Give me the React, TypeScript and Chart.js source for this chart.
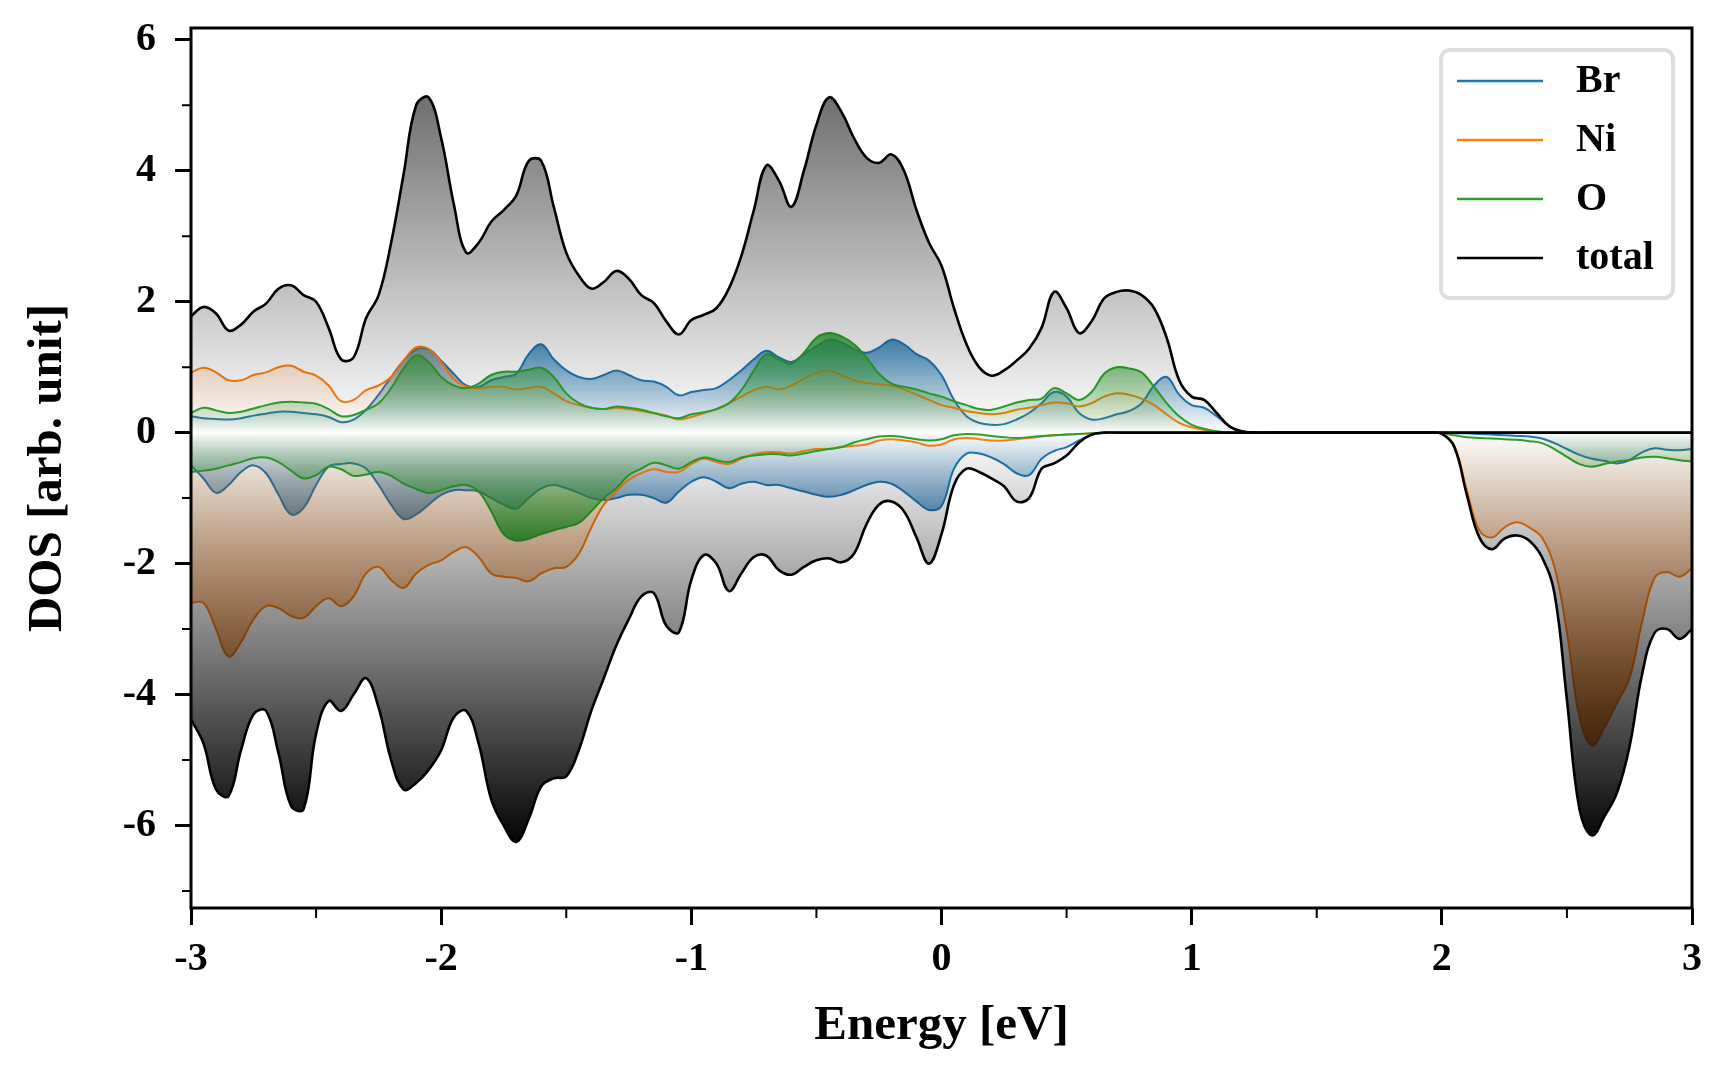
import React, { useEffect, useRef } from 'react';
import Chart from 'chart.js/auto';

// Energy grid (eV)
const ENERGY = [
  -3, -2.95, -2.9, -2.85, -2.8, -2.75, -2.7, -2.65, -2.6, -2.55, -2.5, -2.45, -2.4, -2.35, -2.3, -2.25, -2.2, -2.15, -2.1, -2.05,
  -2, -1.95, -1.9, -1.85, -1.8, -1.75, -1.7, -1.65, -1.6, -1.55, -1.5, -1.45, -1.4, -1.35, -1.3, -1.25, -1.2, -1.15, -1.1, -1.05,
  -1, -0.95, -0.9, -0.85, -0.8, -0.75, -0.7, -0.65, -0.6, -0.55, -0.5, -0.45, -0.4, -0.35, -0.3, -0.25, -0.2, -0.15, -0.1, -0.05,
  0, 0.05, 0.1, 0.15, 0.2, 0.25, 0.3, 0.35, 0.4, 0.45, 0.5, 0.55, 0.6, 0.65, 0.7, 0.75, 0.8, 0.85, 0.9, 0.95,
  1, 1.05, 1.1, 1.15, 1.2, 1.25, 1.3, 1.35, 1.4, 1.45, 1.5, 1.55, 1.6, 1.65, 1.7, 1.75, 1.8, 1.85, 1.9, 1.95,
  2, 2.05, 2.1, 2.15, 2.2, 2.25, 2.3, 2.35, 2.4, 2.45, 2.5, 2.55, 2.6, 2.65, 2.7, 2.75, 2.8, 2.85, 2.9, 2.95,
  3,
];

const TOTAL_UP = [
  1.78, 1.92, 1.82, 1.56, 1.65, 1.85, 1.97, 2.2, 2.25, 2.1, 2.0, 1.6, 1.12, 1.15, 1.75, 2.1, 2.9, 3.95, 5.0, 5.12,
  4.5, 3.5, 2.75, 2.9, 3.22, 3.4, 3.62, 4.15, 4.15, 3.45, 2.75, 2.4, 2.2, 2.3, 2.47, 2.35, 2.1, 1.98, 1.7, 1.5,
  1.72, 1.8, 1.9, 2.2, 2.7, 3.4, 4.08, 3.85, 3.45, 4.0, 4.7, 5.12, 4.9, 4.5, 4.2, 4.12, 4.25, 4.0, 3.4, 2.9,
  2.55, 1.9, 1.35, 1.0, 0.87, 0.95, 1.1, 1.28, 1.6, 2.15, 1.9, 1.52, 1.7, 2.05, 2.15, 2.17, 2.1, 1.9, 1.45, 0.8,
  0.55, 0.5, 0.3, 0.1, 0.02, 0, 0, 0, 0, 0, 0, 0, 0, 0, 0, 0, 0, 0, 0, 0,
  0, 0, 0, 0, 0, 0, 0, 0, 0, 0, 0, 0, 0, 0, 0, 0, 0, 0, 0, 0,
  0,
];

const TOTAL_DN = [
  -4.38, -4.75, -5.45, -5.55, -4.85, -4.3, -4.25, -4.9, -5.7, -5.75, -4.6, -4.1, -4.25, -4.0, -3.75, -4.2, -5.0, -5.45, -5.35, -5.15,
  -4.85, -4.35, -4.25, -4.75, -5.6, -6.0, -6.25, -5.9, -5.4, -5.28, -5.25, -4.85, -4.25, -3.75, -3.25, -2.85, -2.5, -2.45, -2.95, -3.05,
  -2.25, -1.87, -2.0, -2.42, -2.15, -1.9, -1.88, -2.1, -2.17, -2.05, -1.95, -1.92, -1.98, -1.85, -1.4, -1.1, -1.05, -1.2, -1.6, -2.0,
  -1.55, -0.8, -0.55, -0.6, -0.7, -0.82, -1.05, -1.0, -0.55, -0.47, -0.35, -0.15, -0.03, 0, 0, 0, 0, 0, 0, 0,
  0, 0, 0, 0, 0, 0, 0, 0, 0, 0, 0, 0, 0, 0, 0, 0, 0, 0, 0, 0,
  -0.02, -0.22, -0.95, -1.6, -1.78, -1.62, -1.57, -1.65, -1.9, -2.45, -4.08, -5.75, -6.15, -5.86, -5.5, -4.8, -3.7, -3.06, -3.0, -3.15,
  -3.0,
];

const BR_UP = [
  0.25, 0.22, 0.21, 0.2, 0.22, 0.26, 0.29, 0.32, 0.32, 0.3, 0.28, 0.24, 0.16, 0.2, 0.35, 0.58, 0.85, 1.1, 1.27, 1.27,
  1.1, 0.9, 0.72, 0.7, 0.8, 0.85, 0.9, 1.2, 1.35, 1.12, 0.95, 0.85, 0.82, 0.88, 0.95, 0.88, 0.8, 0.78, 0.7, 0.57,
  0.62, 0.65, 0.68, 0.8, 0.95, 1.12, 1.25, 1.15, 1.08, 1.2, 1.32, 1.42, 1.38, 1.28, 1.22, 1.3, 1.42, 1.35, 1.2, 1.1,
  0.88, 0.5, 0.25, 0.15, 0.12, 0.13, 0.2, 0.3, 0.45, 0.62, 0.55, 0.3, 0.2, 0.22, 0.28, 0.33, 0.45, 0.72, 0.85, 0.58,
  0.42, 0.38, 0.25, 0.1, 0.02, 0, 0, 0, 0, 0, 0, 0, 0, 0, 0, 0, 0, 0, 0, 0,
  0, 0, 0, 0, 0, 0, 0, 0, 0, 0, 0, 0, 0, 0, 0, 0, 0, 0, 0, 0,
  0,
];

const BR_DN = [
  -0.5, -0.7, -0.92, -0.8, -0.6, -0.5, -0.62, -0.95, -1.25, -1.15, -0.8, -0.52, -0.48, -0.47, -0.55, -0.8, -1.1, -1.32, -1.25, -1.1,
  -0.95, -0.88, -0.88, -0.9, -1.0, -1.1, -1.16, -1.0, -0.85, -0.8, -0.85, -0.92, -1.0, -1.03, -1.0, -0.95, -0.95, -1.0, -1.07, -0.9,
  -0.75, -0.68, -0.75, -0.85, -0.78, -0.75, -0.8, -0.8, -0.85, -0.9, -0.95, -0.98, -0.95, -0.88, -0.8, -0.75, -0.78, -0.9, -1.05, -1.18,
  -1.12, -0.55, -0.32, -0.32, -0.38, -0.48, -0.62, -0.65, -0.4, -0.28, -0.22, -0.12, -0.03, 0, 0, 0, 0, 0, 0, 0,
  0, 0, 0, 0, 0, 0, 0, 0, 0, 0, 0, 0, 0, 0, 0, 0, 0, 0, 0, 0,
  0, -0.01, -0.01, -0.02, -0.03, -0.04, -0.05, -0.06, -0.09, -0.16, -0.25, -0.34, -0.4, -0.43, -0.47, -0.42, -0.3, -0.24, -0.26, -0.27,
  -0.25,
];

const NI_UP = [
  0.92, 0.99, 0.92, 0.8, 0.8, 0.88, 0.92, 1.0, 1.02, 0.93, 0.87, 0.72, 0.48, 0.5, 0.65, 0.72, 0.85, 1.1, 1.3, 1.28,
  1.08, 0.82, 0.7, 0.68, 0.7, 0.7, 0.66, 0.68, 0.7, 0.6, 0.48, 0.42, 0.38, 0.36, 0.38, 0.36, 0.33, 0.3, 0.26, 0.2,
  0.24, 0.3, 0.36, 0.45, 0.55, 0.65, 0.7, 0.66, 0.72, 0.82, 0.92, 0.95, 0.88, 0.8, 0.76, 0.74, 0.72, 0.66, 0.58, 0.5,
  0.42, 0.38, 0.33, 0.3, 0.28, 0.3, 0.35, 0.38, 0.42, 0.46, 0.45, 0.4, 0.45, 0.55, 0.6, 0.58, 0.52, 0.42, 0.28, 0.15,
  0.08, 0.04, 0.01, 0, 0, 0, 0, 0, 0, 0, 0, 0, 0, 0, 0, 0, 0, 0, 0, 0,
  0, 0, 0, 0, 0, 0, 0, 0, 0, 0, 0, 0, 0, 0, 0, 0, 0, 0, 0, 0,
  0,
];

const NI_DN = [
  -2.6, -2.6, -3.0, -3.42, -3.2, -2.85, -2.65, -2.68, -2.8, -2.83, -2.65, -2.53, -2.65, -2.5, -2.15, -2.05, -2.25, -2.37, -2.15, -2.02,
  -1.95, -1.82, -1.75, -1.9, -2.15, -2.2, -2.22, -2.27, -2.15, -2.07, -2.05, -1.85, -1.45, -1.1, -0.9, -0.72, -0.62, -0.56, -0.6, -0.6,
  -0.48, -0.4, -0.45, -0.48, -0.4, -0.33, -0.3, -0.3, -0.32, -0.28, -0.25, -0.25, -0.22, -0.2, -0.18, -0.12, -0.1, -0.12, -0.15, -0.2,
  -0.18, -0.1, -0.08, -0.1, -0.12, -0.12, -0.1, -0.08, -0.06, -0.04, -0.03, -0.02, -0.01, 0, 0, 0, 0, 0, 0, 0,
  0, 0, 0, 0, 0, 0, 0, 0, 0, 0, 0, 0, 0, 0, 0, 0, 0, 0, 0, 0,
  -0.01, -0.2, -0.88, -1.49, -1.6, -1.45, -1.37, -1.45, -1.6, -2.05, -3.05, -4.34, -4.78, -4.5, -4.13, -3.75, -2.9, -2.22, -2.13, -2.2,
  -2.07,
];

const O_UP = [
  0.3, 0.38, 0.34, 0.3, 0.32, 0.37, 0.42, 0.46, 0.47, 0.46, 0.44, 0.36, 0.25, 0.27, 0.35, 0.45, 0.68, 0.98, 1.18, 1.08,
  0.85, 0.72, 0.68, 0.75, 0.88, 0.93, 0.93, 0.96, 0.99, 0.85, 0.6, 0.45, 0.38, 0.36, 0.4, 0.38, 0.35, 0.3, 0.25, 0.22,
  0.28, 0.31, 0.36, 0.45, 0.65, 0.95, 1.2, 1.12, 1.05, 1.22, 1.45, 1.52, 1.47, 1.35, 1.15, 0.9, 0.75, 0.7, 0.66, 0.6,
  0.55, 0.48, 0.42, 0.36, 0.35, 0.4, 0.46, 0.5, 0.52, 0.68, 0.6, 0.5, 0.62, 0.9, 1.0, 0.98, 0.92, 0.7, 0.45, 0.25,
  0.12, 0.06, 0.02, 0, 0, 0, 0, 0, 0, 0, 0, 0, 0, 0, 0, 0, 0, 0, 0, 0,
  0, 0, 0, 0, 0, 0, 0, 0, 0, 0, 0, 0, 0, 0, 0, 0, 0, 0, 0, 0,
  0,
];

const O_DN = [
  -0.6, -0.58, -0.55, -0.5, -0.45, -0.39, -0.38, -0.45, -0.58, -0.7, -0.65, -0.52, -0.56, -0.66, -0.64, -0.6, -0.66, -0.78, -0.86, -0.92,
  -0.88, -0.82, -0.8, -0.9, -1.2, -1.55, -1.65, -1.62, -1.55, -1.49, -1.44, -1.38, -1.2, -1.0, -0.85, -0.65, -0.55, -0.46, -0.5, -0.55,
  -0.45, -0.38, -0.42, -0.45, -0.38, -0.35, -0.33, -0.33, -0.35, -0.32, -0.28, -0.25, -0.22, -0.15, -0.1, -0.06, -0.05, -0.07, -0.1, -0.12,
  -0.1, -0.04, -0.02, -0.03, -0.05, -0.07, -0.08, -0.07, -0.05, -0.04, -0.03, -0.02, -0.01, 0, 0, 0, 0, 0, 0, 0,
  0, 0, 0, 0, 0, 0, 0, 0, 0, 0, 0, 0, 0, 0, 0, 0, 0, 0, 0, 0,
  -0.01, -0.04, -0.07, -0.08, -0.09, -0.1, -0.11, -0.13, -0.16, -0.25, -0.37, -0.48, -0.52, -0.48, -0.44, -0.42, -0.38, -0.37, -0.39, -0.42,
  -0.44,
];

const X_TICKS = [-3, -2, -1, 0, 1, 2, 3];
const X_MINOR = [-2.5, -1.5, -0.5, 0.5, 1.5, 2.5];
const Y_TICKS = [-6, -4, -2, 0, 2, 4, 6];
const Y_MINOR = [-7, -5, -3, -1, 1, 3, 5];
const SPECIES = ['Br', 'Ni', 'O', 'total'];
const X_LABEL = 'Energy [eV]';
const Y_LABEL = 'DOS [arb. unit]';

const FONT = "'Liberation Serif', 'Times New Roman', Times, serif";

const STYLE: Record<string, any> = {
  Br: { line: '#1f77b4', rgb: '31,119,180', width: 2, upRef: 1.42, upA: 0.8, dnRef: -1.42, dnA: 0.8, order: 3, up: BR_UP, dn: BR_DN },
  Ni: { line: '#ff7f0e', rgb: '255,127,14', width: 2, upRef: 4.78, upA: 0.85, dnRef: -4.78, dnA: 0.85, order: 2, up: NI_UP, dn: NI_DN },
  O: { line: '#2ca02c', rgb: '44,160,44', width: 2, upRef: 1.65, upA: 0.9, dnRef: -1.65, dnA: 0.9, order: 1, up: O_UP, dn: O_DN },
  total: { line: '#000000', rgb: '0,0,0', width: 2.6, upRef: 5.17, upA: 0.57, dnRef: -6.25, dnA: 0.98, order: 0, up: TOTAL_UP, dn: TOTAL_DN },
};

function gradientFill(rgb: string, ref: number, alpha: number) {
  return (c: any) => {
    const chart = c.chart;
    const ys = chart.scales && chart.scales.y;
    if (!chart.chartArea || !ys) return `rgba(${rgb},${alpha * 0.4})`;
    const y0 = ys.getPixelForValue(0);
    const y1 = ys.getPixelForValue(ref);
    const g = chart.ctx.createLinearGradient(0, y0, 0, y1);
    g.addColorStop(0, `rgba(${rgb},0)`);
    g.addColorStop(1, `rgba(${rgb},${alpha})`);
    return g;
  };
}

function points(arr: number[]) {
  return ENERGY.map((x, i) => ({ x, y: arr[i] }));
}

const framePlugin = {
  id: 'frameAndMinor',
  afterDraw(chart: any) {
    const { ctx, chartArea: a, scales } = chart;
    const xs = scales.x;
    const ys = scales.y;
    ctx.save();
    ctx.strokeStyle = '#000';
    ctx.lineWidth = 3;
    ctx.strokeRect(a.left, a.top, a.right - a.left, a.bottom - a.top);
    ctx.lineWidth = 2;
    ctx.beginPath();
    X_MINOR.forEach((v) => {
      const px = xs.getPixelForValue(v);
      ctx.moveTo(px, a.bottom);
      ctx.lineTo(px, a.bottom + 10);
    });
    Y_MINOR.forEach((v) => {
      const py = ys.getPixelForValue(v);
      ctx.moveTo(a.left, py);
      ctx.lineTo(a.left - 9, py);
    });
    ctx.stroke();
    ctx.restore();
  },
};

const legendPlugin = {
  id: 'dosLegend',
  afterDraw(chart: any) {
    const { ctx, chartArea: a } = chart;
    const items = chart.data.datasets.filter((d: any) => d.inLegend);
    const w = 232;
    const h = 248;
    const bx = a.right - 19 - w;
    const by = a.top + 22;
    const r = 9;
    ctx.save();
    ctx.beginPath();
    ctx.moveTo(bx + r, by);
    ctx.lineTo(bx + w - r, by);
    ctx.arcTo(bx + w, by, bx + w, by + r, r);
    ctx.lineTo(bx + w, by + h - r);
    ctx.arcTo(bx + w, by + h, bx + w - r, by + h, r);
    ctx.lineTo(bx + r, by + h);
    ctx.arcTo(bx, by + h, bx, by + h - r, r);
    ctx.lineTo(bx, by + r);
    ctx.arcTo(bx, by, bx + r, by, r);
    ctx.closePath();
    ctx.fillStyle = 'rgba(255,255,255,0.85)';
    ctx.fill();
    ctx.lineWidth = 4;
    ctx.strokeStyle = '#dedede';
    ctx.stroke();
    items.forEach((d: any, i: number) => {
      const y = by + 31 + i * 59;
      ctx.beginPath();
      ctx.strokeStyle = d.borderColor;
      ctx.lineWidth = 2.5;
      ctx.moveTo(bx + 16, y);
      ctx.lineTo(bx + 102, y);
      ctx.stroke();
      ctx.fillStyle = '#000';
      ctx.font = `bold 40px ${FONT}`;
      ctx.textBaseline = 'middle';
      ctx.textAlign = 'left';
      ctx.fillText(d.label, bx + 135, y + 1);
    });
    ctx.restore();
  },
};

export default function App() {
  const ref = useRef<HTMLCanvasElement>(null);

  useEffect(() => {
    if (!ref.current) return;
    const datasets: any[] = [];
    SPECIES.forEach((name) => {
      const s = STYLE[name];
      datasets.push({
        label: name,
        inLegend: true,
        data: points(s.up),
        borderColor: s.line,
        borderWidth: s.width,
        backgroundColor: gradientFill(s.rgb, s.upRef, s.upA),
        fill: 'origin',
        order: s.order,
        pointRadius: 0,
        tension: 0.4,
      });
      datasets.push({
        label: name + ' (down)',
        inLegend: false,
        data: points(s.dn),
        borderColor: s.line,
        borderWidth: s.width,
        backgroundColor: gradientFill(s.rgb, s.dnRef, s.dnA),
        fill: 'origin',
        order: s.order,
        pointRadius: 0,
        tension: 0.4,
      });
    });

    const chart = new Chart(ref.current, {
      type: 'line',
      data: { datasets },
      plugins: [framePlugin, legendPlugin],
      options: {
        responsive: false,
        devicePixelRatio: 1,
        animation: false,
        events: [],
        layout: { padding: { left: 0, top: 28, right: 36, bottom: 0 } },
        font: { family: FONT },
        plugins: {
          legend: { display: false },
          tooltip: { enabled: false },
          filler: { propagate: false },
        },
        scales: {
          x: {
            type: 'linear',
            min: -3,
            max: 3,
            afterBuildTicks: (s: any) => {
              s.ticks = X_TICKS.map((v) => ({ value: v }));
            },
            afterFit: (s: any) => {
              s.height = 172;
              s.paddingLeft = 0;
              s.paddingRight = 0;
            },
            ticks: {
              color: '#000',
              font: { family: FONT, size: 40, weight: 'bold' },
              padding: 11,
              maxRotation: 0,
              autoSkip: false,
              callback: (v: any) => String(v),
            },
            grid: {
              display: true,
              drawOnChartArea: false,
              drawTicks: true,
              tickLength: 17,
              tickColor: '#000',
              tickWidth: 3,
            },
            border: { display: false },
            title: {
              display: true,
              text: X_LABEL,
              color: '#000',
              font: { family: FONT, size: 49, weight: 'bold' },
              padding: { top: 0, bottom: 24 },
            },
          },
          y: {
            type: 'linear',
            min: -7.26,
            max: 6.18,
            afterBuildTicks: (s: any) => {
              s.ticks = Y_TICKS.map((v) => ({ value: v }));
            },
            afterFit: (s: any) => {
              s.width = 191;
              s.paddingTop = 0;
              s.paddingBottom = 0;
            },
            ticks: {
              color: '#000',
              font: { family: FONT, size: 40, weight: 'bold' },
              padding: 19,
              callback: (v: any) => String(v),
            },
            grid: {
              display: true,
              drawOnChartArea: false,
              drawTicks: true,
              tickLength: 16,
              tickColor: '#000',
              tickWidth: 3,
            },
            border: { display: false },
            title: {
              display: true,
              text: Y_LABEL,
              color: '#000',
              font: { family: FONT, size: 49, weight: 'bold' },
              padding: { top: 19, bottom: 0 },
            },
          },
        },
      } as any,
    });
    return () => chart.destroy();
  }, []);

  return (
    <div style={{ position: 'absolute', left: 0, top: 0, width: 1728, height: 1080, background: '#fff' }}>
      <canvas ref={ref} width={1728} height={1080} style={{ display: 'block', width: 1728, height: 1080 }} />
    </div>
  );
}
